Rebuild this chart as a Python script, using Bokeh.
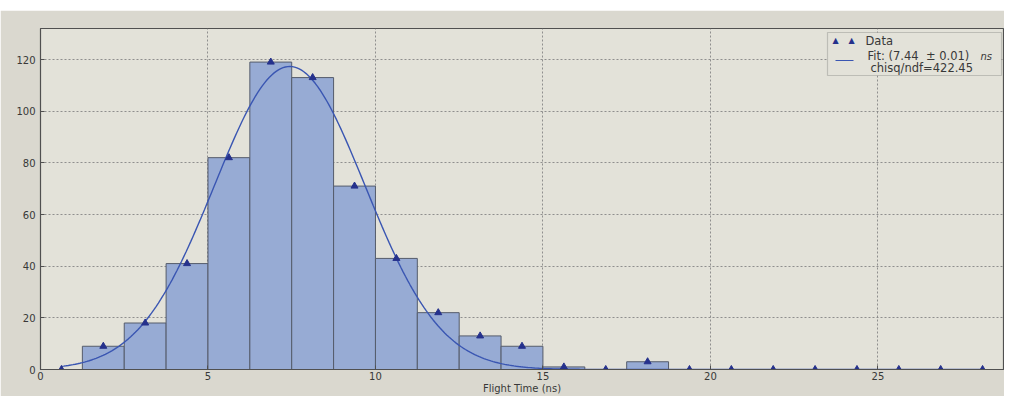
import numpy as np
from bokeh.plotting import figure
from bokeh.layouts import column
from bokeh.models import Range1d, Label, BoxAnnotation, FixedTicker, Spacer
from bokeh.embed import file_html
from bokeh.resources import INLINE

# ---- data ----
bin_left = [0.0, 1.25, 2.5, 3.75, 5.0, 6.25, 7.5, 8.75, 10.0, 11.25, 12.5, 13.75,
            15.0, 16.25, 17.5, 18.75, 20.0, 21.25, 22.5, 23.75, 25.0, 26.25, 27.5]
bin_right = [1.25, 2.5, 3.75, 5.0, 6.25, 7.5, 8.75, 10.0, 11.25, 12.5, 13.75, 15.0,
             16.25, 17.5, 18.75, 20.0, 21.25, 22.5, 23.75, 25.0, 26.25, 27.5, 28.75]
counts = [0, 9, 18, 41, 82, 119, 113, 71, 43, 22, 13, 9, 1, 0, 3, 0, 0, 0, 0, 0, 0, 0, 0]

fit_mean = 7.44
fit_sigma = 2.25
fit_amplitude = 117.3

x_ticks = [0, 5, 10, 15, 20, 25]
y_ticks = [0, 20, 40, 60, 80, 100, 120]
x_title = "Flight Time (ns)"
legend_data = "Data"
legend_fit = "Fit: (7.44\u00a0 \u00b1 0.01)"
legend_fit_unit = "ns"
legend_chi = "chisq/ndf=422.45"

# ---- derived ----
centers = [(l + r) / 2 for l, r in zip(bin_left, bin_right)]
fit_x = np.linspace(centers[0], centers[-1], 400)
fit_y = fit_amplitude * np.exp(-((fit_x - fit_mean) ** 2) / (2 * fit_sigma ** 2))

FONT = "DejaVu Sans"
TXT = "#383838"
BG = "#e3e2d9"

p = figure(width=1004, height=386, output_backend="svg", toolbar_location=None,
           x_range=Range1d(0, 28.75), y_range=Range1d(0, 132),
           min_border_left=40, min_border_right=1, min_border_top=18, min_border_bottom=25,
           background_fill_color=BG, border_fill_color="#dad8cf",
           outline_line_color="#505050", outline_line_width=1.2)

p.quad(left=bin_left, right=bin_right, bottom=0, top=counts,
       fill_color="#97abd4", fill_alpha=1.0, line_color="#555c6b", line_width=1)
p.line(fit_x, fit_y, line_color="#3a56b2", line_width=1.4)
p.scatter(centers, counts, marker="triangle", size=7, fill_color="#25318c", line_color="#25318c")

for ax, ticks in ((p.xaxis, x_ticks), (p.yaxis, y_ticks)):
    ax.ticker = FixedTicker(ticks=ticks)
    ax.major_tick_in = 4
    ax.major_tick_out = 0
    ax.minor_tick_line_color = None
    ax.axis_line_color = "#505050"
    ax.major_tick_line_color = "#505050"
    ax.major_label_text_font = FONT
    ax.major_label_text_font_size = "10px"
    ax.major_label_text_color = TXT
p.xaxis.major_label_standoff = 2
p.yaxis.major_label_standoff = 5
p.xaxis.axis_label = x_title
p.xaxis.axis_label_standoff = 0
p.xaxis.axis_label_text_font = FONT
p.xaxis.axis_label_text_font_style = "normal"
p.xaxis.axis_label_text_font_size = "10px"
p.xaxis.axis_label_text_color = TXT

for g in (p.xgrid, p.ygrid):
    g.grid_line_color = "#808080"
    g.grid_line_dash = "2 2"
    g.grid_line_alpha = 0.85
p.xgrid.ticker = FixedTicker(ticks=x_ticks)
p.ygrid.ticker = FixedTicker(ticks=y_ticks)

# legend (drawn by hand, screen units relative to the plot frame)
def scr_label(x, y, text, size="11.5px", color=TXT, align="left", style="normal"):
    p.add_layout(Label(x=x, y=y, x_units="screen", y_units="screen", text=text,
                       text_align=align, text_baseline="middle", text_font=FONT,
                       text_font_style=style, text_font_size=size, text_color=color))

p.add_layout(BoxAnnotation(left=787, right=961, bottom=294, top=337,
                           left_units="screen", right_units="screen",
                           bottom_units="screen", top_units="screen",
                           fill_color=BG, fill_alpha=1.0,
                           line_color="#666666", line_width=1.2))
for sx in (795, 811):
    scr_label(sx, 329, "\u25b2", size="8px", color="#25318c", align="center")
scr_label(825, 329, legend_data)
p.add_layout(BoxAnnotation(left=795, right=813, bottom=308.5, top=309.5,
                           left_units="screen", right_units="screen",
                           bottom_units="screen", top_units="screen",
                           fill_color="#3a56b2", fill_alpha=1.0, line_color=None))
scr_label(827, 314, legend_fit)
scr_label(940, 313, legend_fit_unit, size="10px", style="italic")
scr_label(830, 302, legend_chi)

layout = column(Spacer(width=1004, height=10), p, spacing=0)
open("out.html", "w").write(file_html(layout, INLINE))
